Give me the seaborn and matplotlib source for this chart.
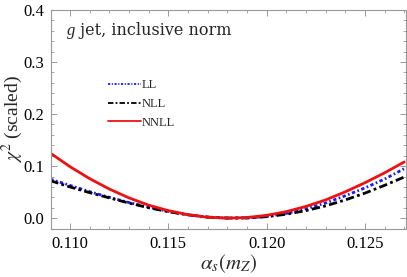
import numpy as np
import pandas as pd
import matplotlib
matplotlib.use("Agg")
import matplotlib.pyplot as plt
from matplotlib.lines import Line2D
from matplotlib.ticker import MultipleLocator
import seaborn as sns

# chi^2 curves
alpha_s = [0.109, 0.110, 0.111, 0.112, 0.113, 0.114, 0.115, 0.116, 0.117, 0.118,
           0.119, 0.120, 0.121, 0.122, 0.123, 0.124, 0.125, 0.126, 0.127]
chi2_ll = [0.075, 0.063, 0.051, 0.040, 0.030, 0.021, 0.013, 0.0065, 0.002, 0.0002,
           0.0005, 0.003, 0.009, 0.018, 0.029, 0.043, 0.058, 0.075, 0.095]
chi2_nll = [0.072, 0.060, 0.049, 0.039, 0.029, 0.020, 0.0125, 0.0063, 0.002, 0.0002,
            0.0004, 0.0028, 0.0075, 0.0145, 0.0235, 0.035, 0.048, 0.063, 0.079]
chi2_nnll = [0.125, 0.099, 0.076, 0.056, 0.039, 0.025, 0.0145, 0.0067, 0.0018, 0.0,
             0.0012, 0.0054, 0.0125, 0.0225, 0.035, 0.0505, 0.068, 0.087, 0.108]
orders = ["LL", "NLL", "NNLL"]

df = pd.DataFrame({
    "alpha_s": alpha_s * 3,
    "chi2": chi2_ll + chi2_nll + chi2_nnll,
    "order": [o for o in orders for _ in alpha_s],
})

sns.set_style("ticks")
plt.rcParams["font.family"] = ["Liberation Serif", "DejaVu Serif"]
plt.rcParams["mathtext.fontset"] = "stix"

palette = {"LL": "#1a1aff", "NLL": "black", "NNLL": "#ee1111"}
dashes = {"LL": (1.2, 0.9, 0.6, 0.9), "NLL": (3.0, 1.2, 1.0, 1.2), "NNLL": ""}

fig = plt.figure(figsize=(4.07, 2.77), dpi=100)
ax = fig.add_axes([0.125, 0.173, 0.8725, 0.791])

sns.lineplot(data=df, x="alpha_s", y="chi2", hue="order", style="order",
             palette=palette, dashes=dashes, linewidth=2.0, ax=ax, legend=False)

ax.set_xlim(0.10903, 0.12709)
ax.set_ylim(-0.021, 0.4)
ax.xaxis.set_major_locator(MultipleLocator(0.005))
ax.xaxis.set_minor_locator(MultipleLocator(0.001))
ax.yaxis.set_major_locator(MultipleLocator(0.1))
ax.yaxis.set_minor_locator(MultipleLocator(0.02))
ax.xaxis.set_major_formatter(matplotlib.ticker.FormatStrFormatter("%.3f"))
ax.yaxis.set_major_formatter(matplotlib.ticker.FormatStrFormatter("%.1f"))

for s in ax.spines.values():
    s.set_color("#999999")
    s.set_linewidth(0.8)
ax.tick_params(which="both", direction="in", top=True, right=True,
               color="#999999", labelsize=12, labelcolor="black")
ax.tick_params(which="major", length=4.5, width=0.7, pad=5)
ax.tick_params(which="minor", length=2.5, width=0.6)

ax.set_xlabel(r"$\alpha_s(m_Z)$", fontsize=15, labelpad=0)
ax.set_ylabel(r"$\chi^2$ (scaled)", fontsize=14)
ax.yaxis.set_label_coords(-0.073, 0.5)

# title-like annotation: italic g followed by upright text
t1 = ax.text(0.045, 0.886, "g", transform=ax.transAxes, fontsize=12,
             va="baseline", ha="left", style="italic", family="Liberation Serif")
fig.canvas.draw()
bb = t1.get_window_extent()
ax.annotate(" jet, inclusive norm", xy=(bb.x1, 0.886), xycoords=("figure pixels", "axes fraction"),
            fontsize=11.5, va="baseline", ha="left", family="DejaVu Serif")

handles = [Line2D([], [], color=palette[o], linewidth=1.3,
                  linestyle="-" if o == "NNLL" else (0, dashes[o])) for o in orders]
ax.legend(handles, orders, loc="upper left", bbox_to_anchor=(0.13, 0.736),
          frameon=False, fontsize=9, handlelength=2.6, handletextpad=0.1,
          labelspacing=0.55)

fig.savefig("out.png", dpi=100)
